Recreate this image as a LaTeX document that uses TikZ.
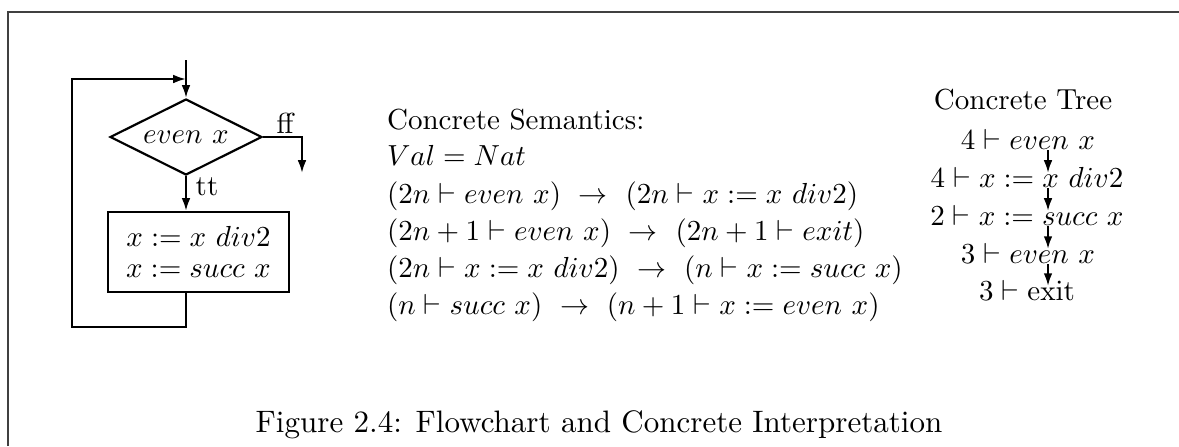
\documentclass[tikz,border=0pt]{standalone}
\usetikzlibrary{arrows.meta,shapes.geometric,calc}
\begin{document}
\begin{tikzpicture}[x=0.3448pt,y=-0.3448pt, line width=0.75pt,
  >={Latex[length=4.4pt,width=3pt]},
  txt/.style={inner sep=0pt, anchor=base west},
  trow/.style={inner sep=0pt, anchor=base},
  frame/.style={line width=0.5pt, black!75}]
\useasboundingbox (0,0) rectangle (1179,446);
% frame
\coordinate (f1) at (8,446);
\coordinate (f2) at (8,12);
\coordinate (f3) at (1179,12);
\draw[frame] (f1) -- (f2) -- (f3);
% flowchart
\node[diamond, draw, aspect=2, minimum width=52.4pt, minimum height=26.2pt, inner sep=0pt] (d) at (186,137) {$even\ x$};
\node[draw, minimum width=62.4pt, minimum height=27.6pt, inner sep=0pt, align=center, font=\fontsize{10}{10.7}\selectfont] (b) at (198.5,252) {$x := x\ div2$\\$x := succ\ x$};
\coordinate (in) at (186,60);
\draw[->] (in) -- (d.north);
\coordinate (ffe) at (302,173);
\draw[->] (d.east) -| (ffe);
\node (fflab) at (285,123) {ff};
\draw[->] (d.south) -- (d.south |- b.north);
\node (ttlab) at (207,187) {tt};
\coordinate (c1) at (186,327);
\coordinate (c2) at (72,327);
\coordinate (c3) at (72,79);
\coordinate (c4) at (186,79);
\draw[->] (d.south |- b.south) -- (c1) -- (c2) -- (c3) -- (c4);
% semantics
\node[txt] (s0) at (386,129) {Concrete Semantics:};
\node[txt] (s1) at (386,165) {$Val = Nat$};
\node[txt] (s2) at (386,203) {$(2n \vdash even\ x)\ \rightarrow\ (2n \vdash x := x\ div2)$};
\node[txt] (s3) at (386,240) {$(2n+1 \vdash even\ x)\ \rightarrow\ (2n+1 \vdash exit)$};
\node[txt] (s4) at (386,277) {$(2n \vdash x := x\ div2)\ \rightarrow\ (n \vdash x := succ\ x)$};
\node[txt] (s5) at (386,314) {$(n \vdash succ\ x)\ \rightarrow\ (n+1 \vdash x := even\ x)$};
% tree
\node[trow] (tt0) at (1023,109) {Concrete Tree};
\node[trow] (t1) at (1028,149) {$4 \vdash even\ x$};
\node[trow] (t2) at (1027,187) {$4 \vdash x := x\ div2$};
\node[trow] (t3) at (1027,225) {$2 \vdash x := succ\ x$};
\node[trow] (t4) at (1028,263) {$3 \vdash even\ x$};
\node[trow] (t5) at (1027,300) {$3 \vdash \mathrm{exit}$};
\coordinate (ax) at (1048,0);
\draw[->] ($(t1.base -| ax)+(0,1)$) -- ($(t2.base -| ax)+(0,-14)$);
\draw[->] ($(t2.base -| ax)+(0,1)$) -- ($(t3.base -| ax)+(0,-14)$);
\draw[->] ($(t3.base -| ax)+(0,1)$) -- ($(t4.base -| ax)+(0,-14)$);
\draw[->] ($(t4.base -| ax)+(0,1)$) -- ($(t5.base -| ax)+(0,-14)$);
% caption
\node[trow, font=\fontsize{10.7}{12}\selectfont] (cap) at (599,432) {Figure 2.4: Flowchart and Concrete Interpretation};
\end{tikzpicture}
\end{document}
